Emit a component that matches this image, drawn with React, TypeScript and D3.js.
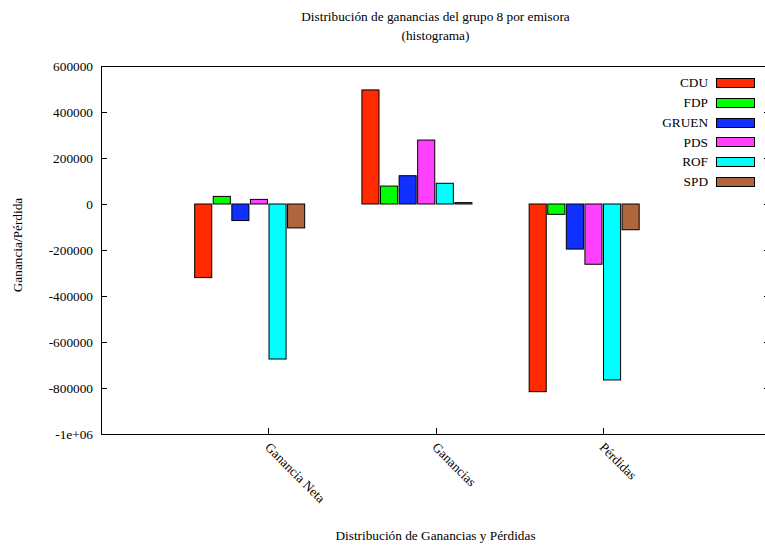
import React, { useRef, useEffect } from "react";
import * as d3 from "d3";

const categories = ["Ganancia Neta", "Ganancias", "Pérdidas"];
const series = ["CDU", "FDP", "GRUEN", "PDS", "ROF", "SPD"];
const colors = ["#ff2a00", "#00ff00", "#1030ff", "#ff40ff", "#00ffff", "#b0663c"];

// one array per party, values for each category
const CDU = [-320000, 496000, -816000];
const FDP = [33000, 78000, -45000];
const GRUEN = [-72000, 123000, -196000];
const PDS = [20000, 278000, -262000];
const ROF = [-674000, 90000, -765000];
const SPD = [-104000, 6000, -112000];

const yTicks = [-1000000, -800000, -600000, -400000, -200000, 0, 200000, 400000, 600000];

function App() {
  const ref = useRef(null);

  const w = 765,
    h = 547,
    margin = { top: 66, right: -5, bottom: 113, left: 101 };

  useEffect(() => {
    const values = [CDU, FDP, GRUEN, PDS, ROF, SPD];
    const font = "'Liberation Serif', 'Times New Roman', serif";
    const fs = 13.3;

    d3.select(ref.current).selectAll("*").remove();

    const svg = d3
      .select(ref.current)
      .append("svg")
      .attr("width", w)
      .attr("height", h)
      .style("position", "absolute")
      .style("left", 0)
      .style("top", 0)
      .style("background", "#fff")
      .style("font-family", font)
      .style("font-size", fs + "px");

    const x0 = margin.left,
      x1 = w - margin.right,
      y0 = margin.top,
      y1 = h - margin.bottom;

    const x = d3
      .scaleLinear()
      .domain([-1, categories.length])
      .range([x0, x1]);

    const y = d3.scaleLinear().domain([-1000000, 600000]).range([y1, y0]);

    // gnuplot style cluster: 6 bars + gap of 3 per category
    const slot = 1 / 9;
    const bw = (x(slot) - x(0)) * 0.92;

    const bars = svg.append("g");
    series.forEach((s, j) => {
      bars
        .append("g")
        .selectAll("rect")
        .data(values[j])
        .enter()
        .append("rect")
        .attr("x", (d, i) => x(i + (j - 3.5) * slot) - bw / 2)
        .attr("width", bw)
        .attr("y", d => Math.min(y(d), y(0)))
        .attr("height", d => Math.abs(y(d) - y(0)))
        .attr("fill", colors[j])
        .attr("stroke", "#000")
        .attr("stroke-width", 1);
    });

    // frame
    svg
      .append("rect")
      .attr("x", x0 + 0.5)
      .attr("y", y0 + 0.5)
      .attr("width", x1 - x0)
      .attr("height", y1 - y0)
      .attr("fill", "none")
      .attr("stroke", "#000");

    // y ticks, both sides, pointing in
    const yAxis = svg.append("g");
    yTicks.forEach(t => {
      const ty = Math.round(y(t)) + 0.5;
      yAxis
        .append("line")
        .attr("x1", x0)
        .attr("x2", x0 + 6)
        .attr("y1", ty)
        .attr("y2", ty)
        .attr("stroke", "#000");
      yAxis
        .append("line")
        .attr("x1", x1 - 6)
        .attr("x2", x1)
        .attr("y1", ty)
        .attr("y2", ty)
        .attr("stroke", "#000");
      yAxis
        .append("text")
        .attr("x", x0 - 8)
        .attr("y", y(t))
        .attr("dy", "0.35em")
        .attr("text-anchor", "end")
        .text(t <= -1000000 ? "-1e+06" : String(t));
    });

    // x ticks
    const xAxis = svg.append("g");
    categories.forEach((c, i) => {
      const tx = Math.round(x(i)) + 0.5;
      xAxis
        .append("line")
        .attr("x1", tx)
        .attr("x2", tx)
        .attr("y1", y1)
        .attr("y2", y1 - 6)
        .attr("stroke", "#000");
      xAxis
        .append("text")
        .attr("transform", `translate(${x(i) + 3},${y1 + 7}) rotate(45)`)
        .attr("dy", "0.75em")
        .attr("text-anchor", "start")
        .text(c);
    });

    // legend
    const legend = svg.append("g");
    series.forEach((s, j) => {
      const ly = 82.5 + j * 19.8;
      legend
        .append("text")
        .attr("x", 708)
        .attr("y", ly)
        .attr("dy", "0.35em")
        .attr("text-anchor", "end")
        .text(s);
      legend
        .append("rect")
        .attr("x", 716.5)
        .attr("y", Math.round(ly - 4.5) + 0.5)
        .attr("width", 38)
        .attr("height", 9)
        .attr("fill", colors[j])
        .attr("stroke", "#000");
    });

    const cx = (x0 + x1) / 2;
    svg
      .append("text")
      .attr("x", cx)
      .attr("y", 21)
      .attr("text-anchor", "middle")
      .text("Distribución de ganancias del grupo 8 por emisora");
    svg
      .append("text")
      .attr("x", cx)
      .attr("y", 40)
      .attr("text-anchor", "middle")
      .text("(histograma)");
    svg
      .append("text")
      .attr("x", cx)
      .attr("y", 540)
      .attr("text-anchor", "middle")
      .text("Distribución de Ganancias y Pérdidas");
    svg
      .append("text")
      .attr("transform", `translate(22,${(y0 + y1) / 2 - 5}) rotate(-90)`)
      .attr("text-anchor", "middle")
      .text("Ganancia/Pérdida");
  }, []);

  return <div className="App" ref={ref}></div>;
}

export default App;
